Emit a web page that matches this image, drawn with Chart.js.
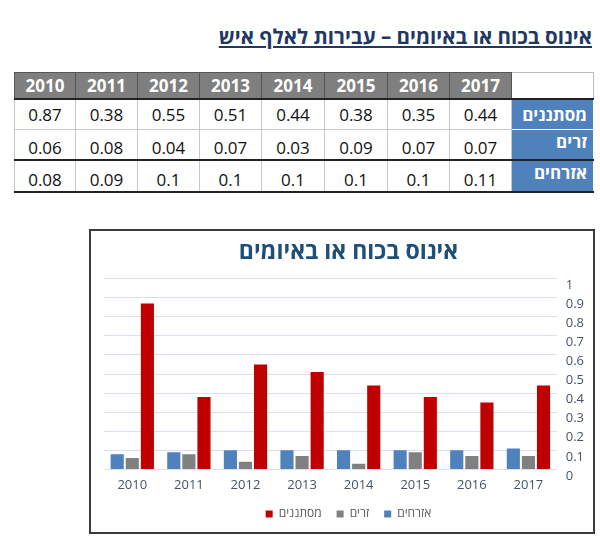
<!DOCTYPE html>
<html lang="he">
<head>
<meta charset="utf-8">
<script src="https://cdn.jsdelivr.net/npm/chart.js@4"></script>
<style>
  body { margin: 0; width: 600px; height: 547px; background: #fff; font-family: "Open Sans", "DejaVu Sans", sans-serif; position: relative; overflow: hidden; }
  #pageTitle { position: absolute; top: 22px; right: 8px; direction: rtl; font-size: 20.5px; font-weight: bold; color: #1f3864; text-decoration: underline; white-space: nowrap; }
  #dataTable { position: absolute; left: 14px; top: 72px; border-collapse: collapse; table-layout: fixed; }
  #dataTable td { border: 1px solid #c8c8c8; text-align: center; font-size: 17px; color: #111; padding: 0; }
  #dataTable tr.head td { background: #7f7f7f; color: #fff; font-weight: bold; border: 1px solid #555; height: 25px; }
  #dataTable tr.head td.corner { background: #fff; border: 1px solid #bbb; }
  #dataTable td.rowLabel { background: #4f81bd; color: #fff; font-weight: bold; text-align: right; direction: rtl; padding-right: 6px; border: 1px solid #fff; }
  #dataTable tr.r1 td { height: 29px; border-top: 2px solid #222; }
  #dataTable tr.r2 td { height: 29px; vertical-align: bottom; }
  #dataTable tr.r2 td.rowLabel { vertical-align: top; }
  #dataTable tr.r3 td { height: 30px; border-top: 2px solid #222; border-bottom: 2px solid #222; vertical-align: bottom; }
  #dataTable tr.r3 td.rowLabel { vertical-align: top; }
  #chartBox { position: absolute; left: 89px; top: 229px; width: 502px; height: 301px; border: 2px solid #3a3a3a; background: #fff; }
</style>
</head>
<body>
<div id="pageTitle">אינוס בכוח או באיומים – עבירות לאלף איש</div>
<table id="dataTable"></table>
<div id="chartBox"><canvas id="rapeChart"></canvas></div>
<script>
const years = ['2010', '2011', '2012', '2013', '2014', '2015', '2016', '2017']
const infiltrators = [0.87, 0.38, 0.55, 0.51, 0.44, 0.38, 0.35, 0.44]
const foreigners = [0.06, 0.08, 0.04, 0.07, 0.03, 0.09, 0.07, 0.07]
const citizens = [0.08, 0.09, 0.1, 0.1, 0.1, 0.1, 0.1, 0.11]
const seriesNames = ['מסתננים', 'זרים', 'אזרחים']
const yTicks = [0, 0.1, 0.2, 0.3, 0.4, 0.5, 0.6, 0.7, 0.8, 0.9, 1]

// build the table above the chart
const colWidths = [61, 62, 62, 62, 63, 63, 62, 62, 82]
const table = document.getElementById('dataTable')
const colgroup = document.createElement('colgroup')
colWidths.forEach(w => {
    const col = document.createElement('col')
    col.style.width = w + 'px'
    colgroup.appendChild(col)
})
table.appendChild(colgroup)

const headRow = document.createElement('tr')
headRow.className = 'head'
years.forEach(y => {
    const td = document.createElement('td')
    td.textContent = y
    headRow.appendChild(td)
})
const corner = document.createElement('td')
corner.className = 'corner'
headRow.appendChild(corner)
table.appendChild(headRow)

const tableRows = [infiltrators, foreigners, citizens]
tableRows.forEach((values, i) => {
    const tr = document.createElement('tr')
    tr.className = 'r' + (i + 1)
    values.forEach(v => {
        const td = document.createElement('td')
        td.textContent = v
        tr.appendChild(td)
    })
    const label = document.createElement('td')
    label.className = 'rowLabel'
    label.textContent = seriesNames[i]
    tr.appendChild(label)
    table.appendChild(tr)
})

// chart
const font = '"Open Sans", "DejaVu Sans", sans-serif'
const rapeChart = new Chart(document.getElementById('rapeChart'), {
    type: 'bar',
    data: {
        labels: years,
        datasets: [
            { label: 'אזרחים', data: citizens, backgroundColor: '#4f81bd' },
            { label: 'זרים', data: foreigners, backgroundColor: '#808080' },
            { label: 'מסתננים', data: infiltrators, backgroundColor: '#c00000' }
        ]
    },
    options: {
        responsive: true,
        maintainAspectRatio: false,
        animation: false,
        datasets: {
            bar: { categoryPercentage: 0.8, barPercentage: 0.87 }
        },
        layout: { padding: { left: 13, right: 0, top: 6, bottom: 2 } },
        scales: {
            x: {
                grid: { display: false },
                border: { color: '#d9e1ea' },
                ticks: { color: '#44546a', font: { family: font, size: 13 }, padding: 0 }
            },
            y: {
                position: 'right',
                min: 0,
                max: 1,
                afterBuildTicks: axis => { axis.ticks = yTicks.map(v => ({ value: v })) },
                grid: { color: '#d9e1ea', drawTicks: false },
                border: { display: false },
                ticks: {
                    color: '#44546a',
                    font: { family: font, size: 13 },
                    padding: 9,
                    align: 'start',
                    callback: v => String(Math.round(v * 10) / 10)
                }
            }
        },
        plugins: {
            title: {
                display: true,
                text: 'אינוס בכוח או באיומים',
                color: '#1f4e79',
                font: { family: font, size: 23, weight: 'bold' },
                padding: { top: 2, bottom: 12 }
            },
            legend: {
                position: 'bottom',
                reverse: true,
                labels: {
                    boxWidth: 7,
                    boxHeight: 7,
                    padding: 15,
                    color: '#595959',
                    font: { family: font, size: 12 }
                }
            },
            tooltip: { enabled: false }
        }
    }
})
</script>
</body>
</html>
